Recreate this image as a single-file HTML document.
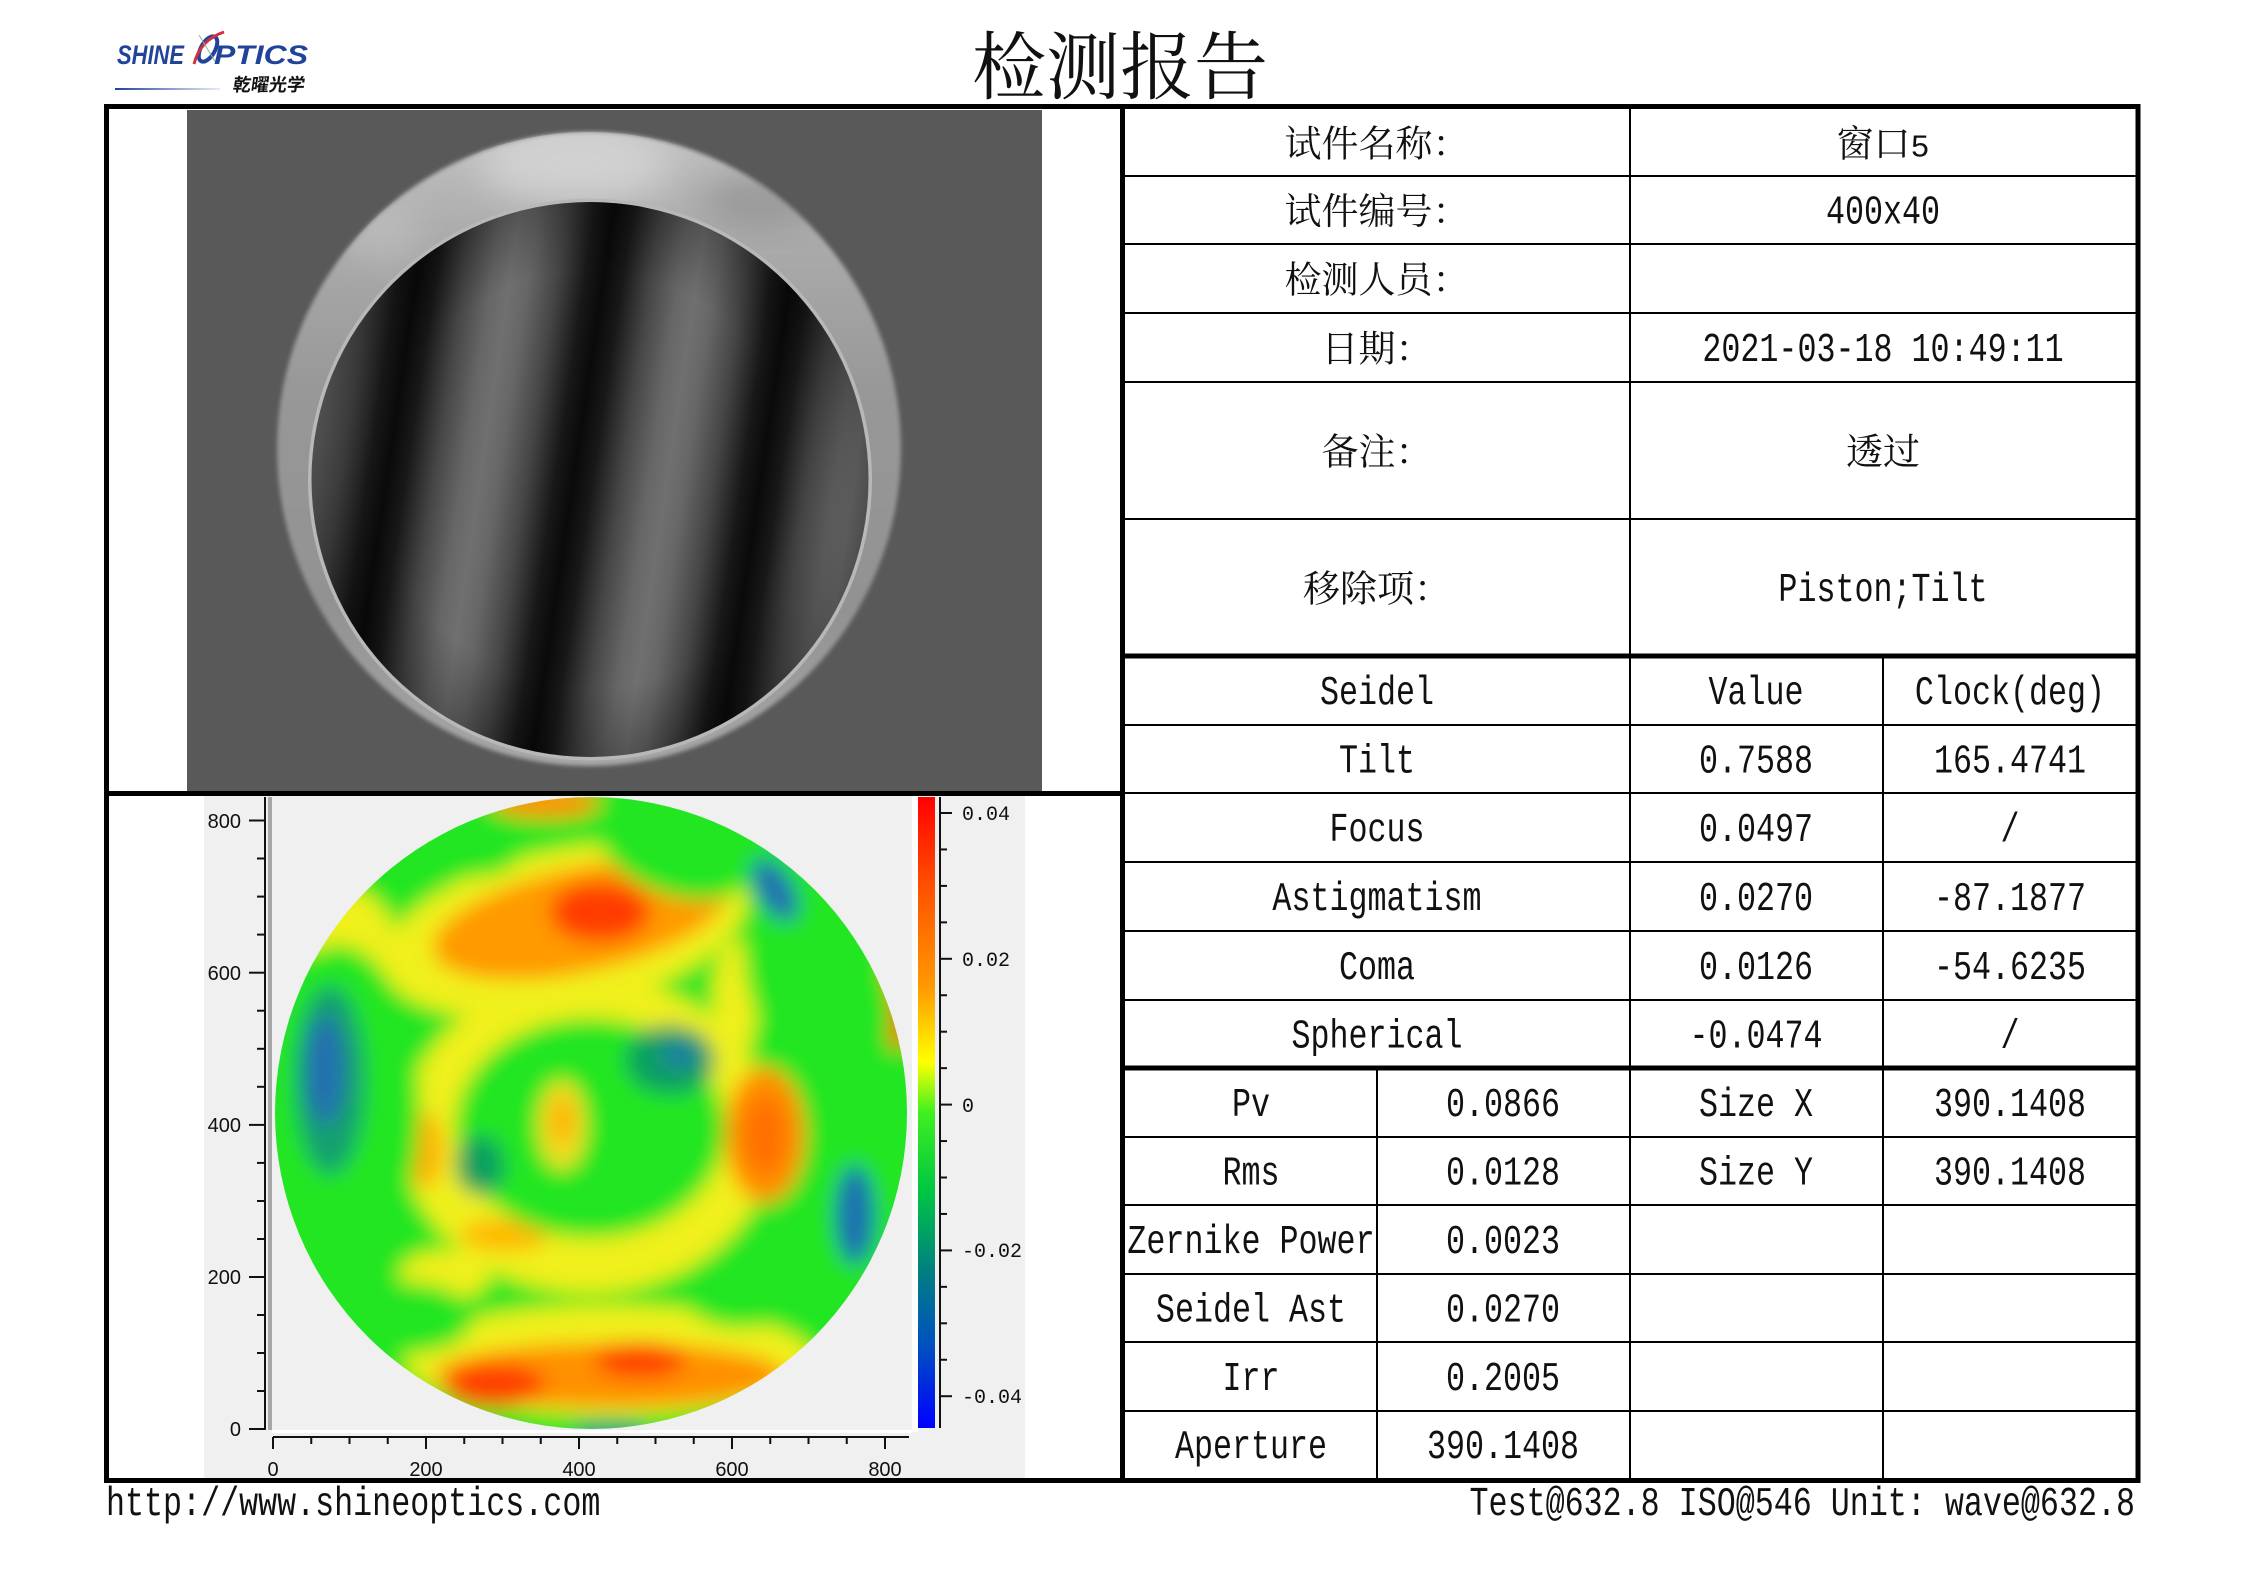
<!DOCTYPE html>
<html><head><meta charset="utf-8">
<style>
html,body{margin:0;padding:0;background:#fff;}
svg{display:block}
.m{font-family:"Liberation Mono",monospace;font-size:31.7px;fill:#111;}
.c{font-family:"Liberation Serif","Noto Serif CJK SC",serif;font-size:37px;fill:#111;}
.ax{font-family:"Liberation Sans",sans-serif;font-size:20px;fill:#111;}
.cbl{font-family:"Liberation Mono",monospace;font-size:20px;fill:#111;}
</style></head>
<body>
<svg width="2245" height="1586" viewBox="0 0 2245 1586" xmlns="http://www.w3.org/2000/svg">
<defs>
 <linearGradient id="fr" gradientUnits="userSpaceOnUse" x1="572" y1="490" x2="755" y2="517.4" spreadMethod="repeat">
  <stop offset="0" stop-color="#0a0a0a"/>
  <stop offset="0.1" stop-color="#181818"/>
  <stop offset="0.25" stop-color="#454545"/>
  <stop offset="0.4" stop-color="#666666"/>
  <stop offset="0.5" stop-color="#707070"/>
  <stop offset="0.6" stop-color="#666666"/>
  <stop offset="0.75" stop-color="#454545"/>
  <stop offset="0.9" stop-color="#181818"/>
  <stop offset="1" stop-color="#0a0a0a"/>
 </linearGradient>
 <linearGradient id="ring" x1="0" y1="0" x2="0" y2="1">
  <stop offset="0" stop-color="#c2c2c2"/>
  <stop offset="0.15" stop-color="#adadad"/>
  <stop offset="0.4" stop-color="#989898"/>
  <stop offset="0.75" stop-color="#929292"/>
  <stop offset="1" stop-color="#a8a8a8"/>
 </linearGradient>
 <radialGradient id="vig" cx="0.5" cy="0.5" r="0.5">
  <stop offset="0.75" stop-color="#000" stop-opacity="0"/>
  <stop offset="1" stop-color="#000" stop-opacity="0.25"/>
 </radialGradient>
 <linearGradient id="cb" x1="0" y1="0" x2="0" y2="1">
  <stop offset="0" stop-color="#ff0000"/>
  <stop offset="0.14" stop-color="#ff5000"/>
  <stop offset="0.3" stop-color="#ff9800"/>
  <stop offset="0.42" stop-color="#ffff00"/>
  <stop offset="0.5" stop-color="#40f020"/>
  <stop offset="0.62" stop-color="#00c840"/>
  <stop offset="0.75" stop-color="#008080"/>
  <stop offset="0.87" stop-color="#0050c0"/>
  <stop offset="1" stop-color="#0000ff"/>
 </linearGradient>
 <linearGradient id="logoline" x1="0" y1="0" x2="1" y2="0">
  <stop offset="0" stop-color="#21439a"/>
  <stop offset="1" stop-color="#21439a" stop-opacity="0.1"/>
 </linearGradient>
 <filter id="soft" x="-5%" y="-5%" width="110%" height="110%"><feGaussianBlur stdDeviation="2"/></filter>
 <filter id="hl" x="-50%" y="-50%" width="200%" height="200%"><feGaussianBlur stdDeviation="18"/></filter>
 <filter id="cmblur" x="-10%" y="-10%" width="120%" height="120%"><feGaussianBlur stdDeviation="10"/></filter>
 <clipPath id="cmclip"><circle cx="591" cy="1113" r="316"/></clipPath>
 <clipPath id="ringclip"><ellipse cx="589" cy="449" rx="312" ry="317"/></clipPath>
</defs>

<rect width="2245" height="1586" fill="#fff"/>

<!-- LOGO -->
<text x="117" y="64" font-family="Liberation Sans, sans-serif" font-weight="bold" font-style="italic" font-size="27" fill="#21439a" textLength="67" lengthAdjust="spacingAndGlyphs">SHINE</text>
<ellipse cx="208" cy="49" rx="7" ry="14" transform="rotate(30 208 49)" fill="none" stroke="#21439a" stroke-width="4"/>
<path d="M194 64 Q200 40 224 32" fill="none" stroke="#d03040" stroke-width="3"/>
<line x1="199" y1="35" x2="216" y2="63" stroke="#9aa" stroke-width="1"/>
<text x="214" y="64" font-family="Liberation Sans, sans-serif" font-weight="bold" font-style="italic" font-size="27" fill="#21439a" textLength="94" lengthAdjust="spacingAndGlyphs">PTICS</text>
<text x="233" y="91" font-family="Noto Sans CJK SC, sans-serif" font-weight="bold" font-size="18" fill="#111" textLength="72" lengthAdjust="spacingAndGlyphs" transform="skewX(-8) translate(12,0)">乾曜光学</text>
<rect x="115" y="88" width="105" height="2" fill="url(#logoline)"/>

<!-- TITLE -->
<text x="1120" y="93" text-anchor="middle" font-family="Liberation Serif, Noto Serif CJK SC, serif" font-size="74" fill="#111">检测报告</text>

<!-- FRINGE IMAGE -->
<rect x="187" y="110" width="855" height="681" fill="#595959"/>
<g filter="url(#soft)">
 <ellipse cx="589" cy="449" rx="312" ry="317" fill="url(#ring)"/>
</g>
<g clip-path="url(#ringclip)">
 <ellipse cx="575" cy="165" rx="95" ry="40" fill="#e0e0e0" opacity="0.6" filter="url(#hl)"/>
 <ellipse cx="380" cy="230" rx="40" ry="30" fill="#d0d0d0" opacity="0.4" filter="url(#hl)"/>
 <ellipse cx="760" cy="200" rx="60" ry="25" fill="#707070" opacity="0.4" filter="url(#hl)"/>
</g>
<ellipse cx="590" cy="479.5" rx="282" ry="281" fill="#b8b8b8"/>
<ellipse cx="590" cy="479.5" rx="278.5" ry="277.5" fill="url(#fr)"/>
<ellipse cx="590" cy="479.5" rx="278.5" ry="277.5" fill="url(#vig)"/>

<!-- COLORMAP PANEL -->
<rect x="204" y="796" width="821" height="682" fill="#f0f0f0"/>
<rect x="912" y="796" width="6" height="636" fill="#fff"/>
<rect x="272" y="1430" width="640" height="3" fill="#fff"/>
<rect x="268" y="797" width="4" height="633" fill="#a8a8a8"/>

<g clip-path="url(#cmclip)">
 <g filter="url(#cmblur)">
  <rect x="260" y="780" width="670" height="670" fill="#22e622"/>
  <!-- yellow -->
  <ellipse cx="588" cy="1135" rx="186" ry="158" fill="#f0f01e"/>
  <ellipse cx="565" cy="930" rx="185" ry="80" transform="rotate(-12 565 930)" fill="#f0f01e"/>
  <ellipse cx="350" cy="945" rx="45" ry="55" fill="#f0f01e"/>
  <ellipse cx="610" cy="1360" rx="205" ry="55" fill="#f0f01e"/>
  <ellipse cx="735" cy="1000" rx="22" ry="60" fill="#f0f01e"/>
  <ellipse cx="445" cy="1275" rx="45" ry="25" fill="#f0f01e"/>
  <!-- orange / red -->
  <ellipse cx="580" cy="920" rx="150" ry="52" transform="rotate(-12 580 920)" fill="#ff9a00"/>
  <ellipse cx="600" cy="912" rx="50" ry="30" fill="#ff3c00"/>
  <ellipse cx="765" cy="1135" rx="40" ry="68" fill="#ff9000"/>
  <ellipse cx="765" cy="1135" rx="22" ry="40" fill="#ff7000"/>
  <ellipse cx="610" cy="1375" rx="175" ry="32" fill="#ff9000"/>
  <ellipse cx="495" cy="1385" rx="50" ry="22" fill="#ff4000"/>
  <ellipse cx="640" cy="1360" rx="45" ry="18" fill="#ff4000"/>
  <ellipse cx="545" cy="803" rx="55" ry="15" fill="#ff9000"/>
  <ellipse cx="897" cy="1000" rx="15" ry="50" fill="#ff4000"/>
  <ellipse cx="425" cy="1150" rx="18" ry="38" fill="#ffb000"/>
  <ellipse cx="505" cy="1235" rx="45" ry="16" fill="#ffb800"/>
  <!-- green -->
  <ellipse cx="590" cy="1128" rx="135" ry="110" fill="#22e622"/>
  <ellipse cx="338" cy="1110" rx="82" ry="165" fill="#22e622"/>
  <ellipse cx="475" cy="852" rx="45" ry="25" fill="#22e622"/>
  <ellipse cx="675" cy="850" rx="80" ry="45" transform="rotate(20 675 850)" fill="#22e622"/>
  <ellipse cx="818" cy="985" rx="68" ry="110" transform="rotate(-20 818 985)" fill="#22e622"/>
  <ellipse cx="858" cy="1215" rx="52" ry="115" fill="#22e622"/>
  <ellipse cx="742" cy="1290" rx="62" ry="38" fill="#22e622"/>
  <ellipse cx="405" cy="1318" rx="68" ry="36" fill="#22e622"/>
  <ellipse cx="610" cy="1432" rx="70" ry="16" fill="#22e622"/>
  <!-- center spot -->
  <ellipse cx="562" cy="1125" rx="24" ry="45" fill="#f0e020"/>
  <ellipse cx="562" cy="1120" rx="12" ry="25" fill="#ffb000"/>
  <!-- teal / blue -->
  <ellipse cx="330" cy="1080" rx="35" ry="95" fill="#14a070"/>
  <ellipse cx="325" cy="1070" rx="20" ry="55" fill="#2070b0"/>
  <ellipse cx="670" cy="1060" rx="45" ry="35" fill="#10a060"/>
  <ellipse cx="680" cy="1055" rx="20" ry="15" fill="#1a80a0"/>
  <ellipse cx="480" cy="1165" rx="25" ry="30" fill="#10a060"/>
  <ellipse cx="775" cy="890" rx="18" ry="35" transform="rotate(-30 775 890)" fill="#2070b0"/>
  <ellipse cx="855" cy="1215" rx="20" ry="50" fill="#1a70b0"/>
  <ellipse cx="610" cy="1432" rx="40" ry="8" fill="#1a8090"/>
 </g>
</g>

<!-- Y axis -->
<rect x="264" y="797" width="2" height="633" fill="#111"/>
<g stroke="#111" stroke-width="2">
 <line x1="249" y1="820.5" x2="265" y2="820.5"/>
 <line x1="257" y1="858.5" x2="265" y2="858.5"/>
 <line x1="257" y1="896.6" x2="265" y2="896.6"/>
 <line x1="257" y1="934.6" x2="265" y2="934.6"/>
 <line x1="249" y1="972.7" x2="265" y2="972.7"/>
 <line x1="257" y1="1010.7" x2="265" y2="1010.7"/>
 <line x1="257" y1="1048.8" x2="265" y2="1048.8"/>
 <line x1="257" y1="1086.8" x2="265" y2="1086.8"/>
 <line x1="249" y1="1124.9" x2="265" y2="1124.9"/>
 <line x1="257" y1="1162.9" x2="265" y2="1162.9"/>
 <line x1="257" y1="1201" x2="265" y2="1201"/>
 <line x1="257" y1="1239" x2="265" y2="1239"/>
 <line x1="249" y1="1277" x2="265" y2="1277"/>
 <line x1="257" y1="1315" x2="265" y2="1315"/>
 <line x1="257" y1="1353" x2="265" y2="1353"/>
 <line x1="257" y1="1391" x2="265" y2="1391"/>
 <line x1="249" y1="1429" x2="265" y2="1429"/>
</g>
<g class="ax" text-anchor="end">
 <text x="241" y="828">800</text>
 <text x="241" y="980">600</text>
 <text x="241" y="1132">400</text>
 <text x="241" y="1284">200</text>
 <text x="241" y="1436">0</text>
</g>

<!-- X axis -->
<rect x="273" y="1436" width="636" height="2" fill="#111"/>
<g stroke="#111" stroke-width="2">
 <line x1="273" y1="1437" x2="273" y2="1449"/>
 <line x1="311.25" y1="1437" x2="311.25" y2="1444"/>
 <line x1="349.5" y1="1437" x2="349.5" y2="1444"/>
 <line x1="387.75" y1="1437" x2="387.75" y2="1444"/>
 <line x1="426" y1="1437" x2="426" y2="1449"/>
 <line x1="464.25" y1="1437" x2="464.25" y2="1444"/>
 <line x1="502.5" y1="1437" x2="502.5" y2="1444"/>
 <line x1="540.75" y1="1437" x2="540.75" y2="1444"/>
 <line x1="579" y1="1437" x2="579" y2="1449"/>
 <line x1="617.25" y1="1437" x2="617.25" y2="1444"/>
 <line x1="655.5" y1="1437" x2="655.5" y2="1444"/>
 <line x1="693.75" y1="1437" x2="693.75" y2="1444"/>
 <line x1="732" y1="1437" x2="732" y2="1449"/>
 <line x1="770.25" y1="1437" x2="770.25" y2="1444"/>
 <line x1="808.5" y1="1437" x2="808.5" y2="1444"/>
 <line x1="846.75" y1="1437" x2="846.75" y2="1444"/>
 <line x1="885" y1="1437" x2="885" y2="1449"/>
</g>
<g class="ax" text-anchor="middle">
 <text x="273" y="1476">0</text>
 <text x="426" y="1476">200</text>
 <text x="579" y="1476">400</text>
 <text x="732" y="1476">600</text>
 <text x="885" y="1476">800</text>
</g>

<!-- Colorbar -->
<rect x="918" y="797" width="17" height="631" fill="url(#cb)"/>
<rect x="939" y="797" width="2" height="631" fill="#111"/>
<g stroke="#111" stroke-width="2">
 <line x1="940" y1="813" x2="952" y2="813"/>
 <line x1="940" y1="849.45" x2="947" y2="849.45"/>
 <line x1="940" y1="885.9" x2="947" y2="885.9"/>
 <line x1="940" y1="922.35" x2="947" y2="922.35"/>
 <line x1="940" y1="958.8" x2="952" y2="958.8"/>
 <line x1="940" y1="995.25" x2="947" y2="995.25"/>
 <line x1="940" y1="1031.7" x2="947" y2="1031.7"/>
 <line x1="940" y1="1068.15" x2="947" y2="1068.15"/>
 <line x1="940" y1="1104.6" x2="952" y2="1104.6"/>
 <line x1="940" y1="1141.05" x2="947" y2="1141.05"/>
 <line x1="940" y1="1177.5" x2="947" y2="1177.5"/>
 <line x1="940" y1="1213.95" x2="947" y2="1213.95"/>
 <line x1="940" y1="1250.4" x2="952" y2="1250.4"/>
 <line x1="940" y1="1286.85" x2="947" y2="1286.85"/>
 <line x1="940" y1="1323.3" x2="947" y2="1323.3"/>
 <line x1="940" y1="1359.75" x2="947" y2="1359.75"/>
 <line x1="940" y1="1396.2" x2="952" y2="1396.2"/>
</g>
<g class="cbl">
 <text x="962" y="820">0.04</text>
 <text x="962" y="966">0.02</text>
 <text x="962" y="1112">0</text>
 <text x="962" y="1257">-0.02</text>
 <text x="962" y="1403">-0.04</text>
</g>

<!-- BORDERS & TABLE LINES -->
<rect x="106.5" y="106.5" width="2031.5" height="1374" fill="none" stroke="#000" stroke-width="5"/>
<rect x="1120" y="106" width="5" height="1375" fill="#000"/>
<rect x="106" y="791" width="1016" height="5" fill="#000"/>
<rect x="1122" y="653.5" width="1016" height="5" fill="#000"/>
<rect x="1122" y="1065.5" width="1016" height="5" fill="#000"/>
<g fill="#000">
 <rect x="1125" y="175" width="1011" height="2"/>
 <rect x="1125" y="243" width="1011" height="2"/>
 <rect x="1125" y="312" width="1011" height="2"/>
 <rect x="1125" y="381" width="1011" height="2"/>
 <rect x="1125" y="518" width="1011" height="2"/>
 <rect x="1125" y="724" width="1011" height="2"/>
 <rect x="1125" y="792" width="1011" height="2"/>
 <rect x="1125" y="861" width="1011" height="2"/>
 <rect x="1125" y="930" width="1011" height="2"/>
 <rect x="1125" y="999" width="1011" height="2"/>
 <rect x="1125" y="1136" width="1011" height="2"/>
 <rect x="1125" y="1204" width="1011" height="2"/>
 <rect x="1125" y="1273" width="1011" height="2"/>
 <rect x="1125" y="1341" width="1011" height="2"/>
 <rect x="1125" y="1410" width="1011" height="2"/>
 <rect x="1629" y="109" width="2" height="1369"/>
 <rect x="1882" y="656" width="2" height="822"/>
 <rect x="1376" y="1068" width="2" height="410"/>
</g>

<!-- TOP SECTION TEXT -->
<g class="c" text-anchor="middle">
 <text x="1377" y="156.5">试件名称：</text>
 <text x="1377" y="224">试件编号：</text>
 <text x="1377" y="292.5">检测人员：</text>
 <text x="1377" y="361.5">日期：</text>
 <text x="1377" y="464.5">备注：</text>
 <text x="1377" y="601.5">移除项：</text>
 <text x="1883" y="156.5">窗口<tspan font-family="Liberation Mono, monospace" font-size="31.7">5</tspan></text>
 <text x="1883" y="464.5">透过</text>
</g>
<g class="m" text-anchor="middle">
 <text transform="translate(1883,223.5) scale(1,1.28)">400x40</text>
 <text transform="translate(1883,361) scale(1,1.28)">2021-03-18 10:49:11</text>
 <text transform="translate(1883,601) scale(1,1.28)">Piston;Tilt</text>

 <text transform="translate(1377,704) scale(1,1.28)">Seidel</text>
 <text transform="translate(1756,704) scale(1,1.28)">Value</text>
 <text transform="translate(2010,704) scale(1,1.28)">Clock(deg)</text>

 <text transform="translate(1377,772.5) scale(1,1.28)">Tilt</text>
 <text transform="translate(1756,772.5) scale(1,1.28)">0.7588</text>
 <text transform="translate(2010,772.5) scale(1,1.28)">165.4741</text>

 <text transform="translate(1377,841) scale(1,1.28)">Focus</text>
 <text transform="translate(1756,841) scale(1,1.28)">0.0497</text>
 <text transform="translate(2010,841) scale(1,1.28)">/</text>

 <text transform="translate(1377,910) scale(1,1.28)">Astigmatism</text>
 <text transform="translate(1756,910) scale(1,1.28)">0.0270</text>
 <text transform="translate(2010,910) scale(1,1.28)">-87.1877</text>

 <text transform="translate(1377,979) scale(1,1.28)">Coma</text>
 <text transform="translate(1756,979) scale(1,1.28)">0.0126</text>
 <text transform="translate(2010,979) scale(1,1.28)">-54.6235</text>

 <text transform="translate(1377,1047.5) scale(1,1.28)">Spherical</text>
 <text transform="translate(1756,1047.5) scale(1,1.28)">-0.0474</text>
 <text transform="translate(2010,1047.5) scale(1,1.28)">/</text>

 <text transform="translate(1251,1116) scale(1,1.28)">Pv</text>
 <text transform="translate(1503,1116) scale(1,1.28)">0.0866</text>
 <text transform="translate(1756,1116) scale(1,1.28)">Size X</text>
 <text transform="translate(2010,1116) scale(1,1.28)">390.1408</text>

 <text transform="translate(1251,1184.5) scale(1,1.28)">Rms</text>
 <text transform="translate(1503,1184.5) scale(1,1.28)">0.0128</text>
 <text transform="translate(1756,1184.5) scale(1,1.28)">Size Y</text>
 <text transform="translate(2010,1184.5) scale(1,1.28)">390.1408</text>

 <text transform="translate(1251,1253) scale(1,1.28)">Zernike Power</text>
 <text transform="translate(1503,1253) scale(1,1.28)">0.0023</text>

 <text transform="translate(1251,1321.5) scale(1,1.28)">Seidel Ast</text>
 <text transform="translate(1503,1321.5) scale(1,1.28)">0.0270</text>

 <text transform="translate(1251,1390) scale(1,1.28)">Irr</text>
 <text transform="translate(1503,1390) scale(1,1.28)">0.2005</text>

 <text transform="translate(1251,1458) scale(1,1.28)">Aperture</text>
 <text transform="translate(1503,1458) scale(1,1.28)">390.1408</text>
</g>

<!-- FOOTER -->
<text class="m" transform="translate(106,1515) scale(1,1.28)">http://www.shineoptics.com</text>
<text class="m" text-anchor="end" transform="translate(2135,1515) scale(1,1.28)">Test@632.8 ISO@546 Unit: wave@632.8</text>
</svg>
</body></html>
